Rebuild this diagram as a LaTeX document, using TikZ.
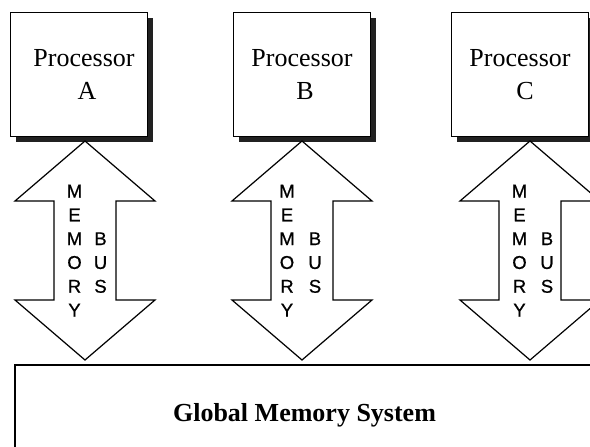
\documentclass[tikz,border=0pt]{standalone}
\usepackage{fontspec}
\setmainfont{Liberation Serif}
\newfontfamily\arialfont[FakeBold=0.8]{Liberation Sans}
\begin{document}
\begin{tikzpicture}[x=1pt,y=-1pt,
  procbox/.style={draw=black,line width=1.3pt,fill=white,minimum width=137pt,minimum height=124pt,anchor=north west,inner sep=0pt},
  shadowbox/.style={fill=black!87,draw=none,minimum width=137pt,minimum height=124pt,anchor=north west,inner sep=0pt},
  proctext/.style={font=\fontsize{26}{30}\selectfont,anchor=base,inner sep=0pt},
  busletter/.style={font=\arialfont\fontsize{18.5}{22}\selectfont,anchor=base,inner sep=0pt},
  busarrow/.style={draw=black,line width=1.2pt,fill=white,line join=miter},
  gmsbox/.style={draw=black,line width=2pt,fill=white,anchor=north west,minimum width=600pt,minimum height=120pt,inner sep=0pt}
]
\useasboundingbox (0,0) rectangle (590,447);
\clip (0,0) rectangle (590,447);

% processor boxes with shadows
\node[shadowbox] (sA) at (16,18) {};
\node[procbox] (pA) at (10,12) {};
\node[shadowbox] (sB) at (239,18) {};
\node[procbox] (pB) at (233,12) {};
\node[shadowbox] (sC) at (457,18) {};
\node[procbox] (pC) at (451,12) {};

\node[proctext] (tA1) at (84,66) {Processor};
\node[proctext] (tA2) at (87,99) {A};
\node[proctext] (tB1) at (302,66) {Processor};
\node[proctext] (tB2) at (305,99) {B};
\node[proctext] (tC1) at (520,66) {Processor};
\node[proctext] (tC2) at (525,99) {C};

% global memory box
\node[gmsbox] (gms) at (14,364) {};
\node[font=\bfseries\fontsize{26}{30}\selectfont,anchor=base,inner sep=0pt] (gmst) at (304.5,421) {Global Memory System};

% memory bus arrows
\foreach \n/\cx/\mo/\bo in {A/85/-10.5/15.5, B/302/-15/13, C/530/-10.5/17}{
  \coordinate (top\n) at (\cx,141);
  \coordinate (bot\n) at (\cx,360);
  \draw[busarrow] (top\n) -- ++(70,60) -- ++(-39,0) -- ++(0,99) -- ++(39,0) -- (bot\n)
     -- ++(-70,-60) -- ++(39,0) -- ++(0,-99) -- ++(-39,0) -- cycle;
  \foreach \L [count=\i from 0] in {M,E,M,O,R,Y}{
    \node[busletter] (m\n\i) at ({\cx+\mo},{197.5+23.8*\i}) {\L};
  }
  \foreach \L [count=\i from 2] in {B,U,S}{
    \node[busletter] (b\n\i) at ({\cx+\bo},{197.5+23.8*\i}) {\L};
  }
}
\end{tikzpicture}
\end{document}
